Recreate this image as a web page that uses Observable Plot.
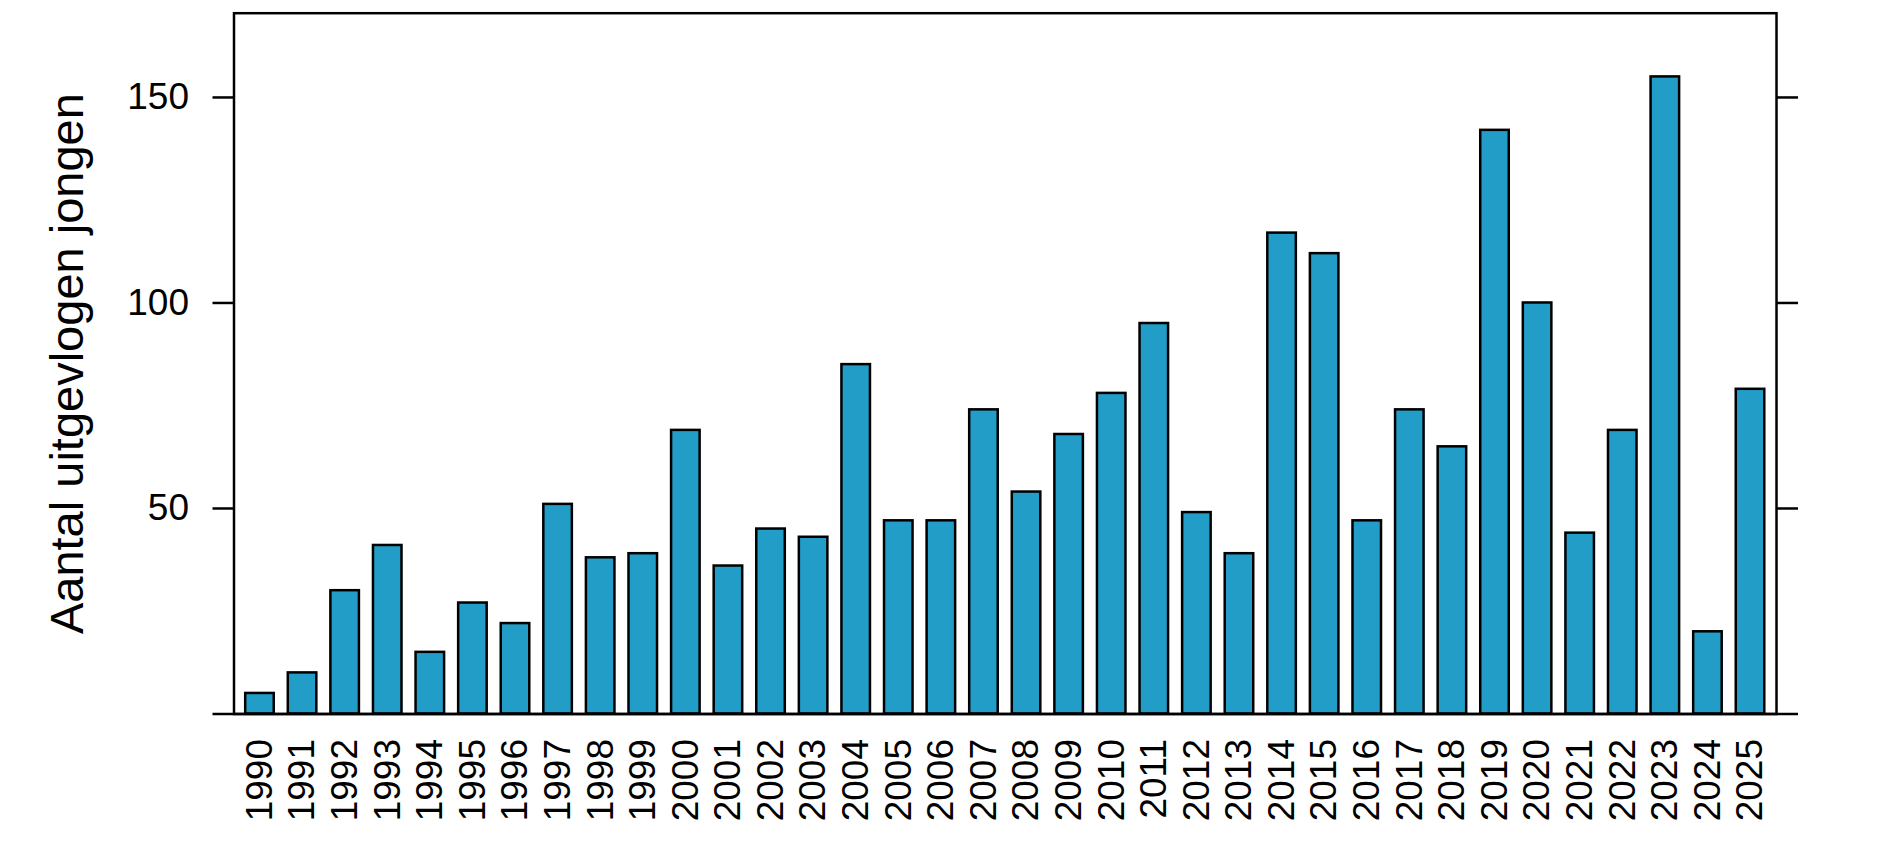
<!DOCTYPE html>
<html>
<head>
<meta charset="utf-8">
<script src="https://cdn.jsdelivr.net/npm/d3@7"></script>
<script src="https://cdn.jsdelivr.net/npm/@observablehq/plot@0.6"></script>
<style>
  html, body { margin: 0; padding: 0; background: #ffffff; }
  #chart svg { display: block; }
</style>
</head>
<body>
<div id="chart"></div>
<script>
const years = ["1990","1991","1992","1993","1994","1995","1996","1997","1998","1999",
  "2000","2001","2002","2003","2004","2005","2006","2007","2008","2009",
  "2010","2011","2012","2013","2014","2015","2016","2017","2018","2019",
  "2020","2021","2022","2023","2024","2025"];
const counts = [5, 10, 30, 41, 15, 27, 22, 51, 38, 39,
  69, 36, 45, 43, 85, 47, 47, 74, 54, 68,
  78, 95, 49, 39, 117, 112, 47, 74, 65, 142,
  100, 44, 69, 155, 20, 79];
const yTicks = [50, 100, 150];
const yTitle = "Aantal uitgevlogen jongen";

const data = years.map((y, i) => ({year: y, count: counts[i]}));

const chart = Plot.plot({
  width: 1890,
  height: 853,
  marginLeft: 233.5,
  marginRight: 114,
  marginTop: 12.7,
  marginBottom: 139.5,
  style: {fontFamily: "'Liberation Sans', Arial, sans-serif", fontSize: "36px", background: "#ffffff", color: "#000000"},
  x: {domain: years, paddingInner: 0.33, paddingOuter: 0.275, round: false, label: null},
  y: {domain: [0, 170.5], label: null},
  marks: [
    Plot.barY(data, {x: "year", y: "count", fill: "#219DC7", stroke: "#000000", strokeWidth: 2.5}),
    Plot.frame({stroke: "#000000", strokeWidth: 2.5}),
    Plot.ruleY([0], {stroke: "#000000", strokeWidth: 2.5, insetLeft: -21, insetRight: -22}),
    Plot.axisY({anchor: "left", ticks: yTicks, tickSize: 21, tickPadding: 24, fontSize: 37, strokeWidth: 2.5, label: null}),
    Plot.axisY({anchor: "right", ticks: yTicks, tickSize: 21, tickFormat: () => "", strokeWidth: 2.5, label: null}),
    Plot.axisX({anchor: "bottom", tickRotate: -90, tickSize: 0, tickPadding: 25, fontSize: 37, label: null}),
    Plot.text([yTitle], {frameAnchor: "left", textAnchor: "middle", rotate: -90, dx: -166, fontSize: 47, fill: "#000000"})
  ]
});
document.getElementById("chart").appendChild(chart);
</script>
</body>
</html>
